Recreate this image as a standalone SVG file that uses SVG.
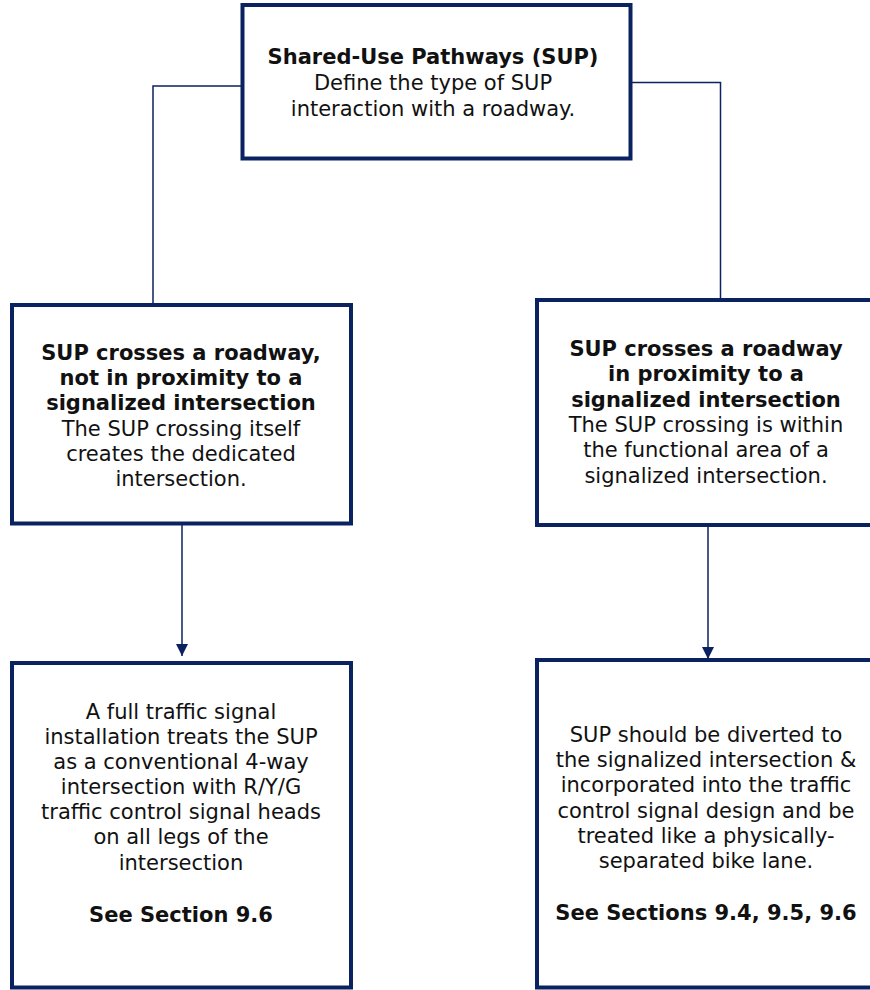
<svg xmlns="http://www.w3.org/2000/svg" width="870" height="990" viewBox="0 0 870 990">
  <defs>
    <marker id="arrow" viewBox="0 0 12 12" refX="12" refY="6" markerWidth="12" markerHeight="12" markerUnits="userSpaceOnUse" orient="auto">
      <path d="M0,0 L12,6 L0,12 Z" fill="#0b2260"/>
    </marker>
  </defs>
  <style>
    .box { fill: #ffffff; stroke: #0b2260; stroke-width: 4; }
    .link { fill: none; stroke: #0b2260; stroke-width: 1.5; }
    text { font-family: "DejaVu Sans", Verdana, sans-serif; font-size: 21px; fill: #111111; text-anchor: middle; }
    .b { font-weight: bold; }
  </style>
  <rect width="870" height="990" fill="#ffffff"/>

  <g id="connectors">
    <polyline class="link" points="242.5,86 153,86 153,305"/>
    <polyline class="link" points="630.5,82.5 720.5,82.5 720.5,300"/>
    <line class="link" x1="182" y1="524" x2="182" y2="656" marker-end="url(#arrow)"/>
    <line class="link" x1="708" y1="526" x2="708" y2="659" marker-end="url(#arrow)"/>
  </g>

  <g id="sup-root">
    <rect class="box" x="242.5" y="5" width="388" height="153.5"/>
    <text x="433" y="64" class="b">Shared-Use Pathways (SUP)</text>
    <text x="433" y="90">Define the type of SUP</text>
    <text x="433" y="116">interaction with a roadway.</text>
  </g>

  <g id="not-near-signal">
    <rect class="box" x="12" y="305" width="339" height="218.5"/>
    <text x="181" y="360" class="b">SUP crosses a roadway,</text>
    <text x="181" y="385" class="b">not in proximity to a</text>
    <text x="181" y="410" class="b">signalized intersection</text>
    <text x="181" y="436">The SUP crossing itself</text>
    <text x="181" y="461">creates the dedicated</text>
    <text x="181" y="486">intersection.</text>
  </g>

  <g id="near-signal">
    <rect class="box" x="537" y="300" width="345" height="225"/>
    <text x="706" y="356" class="b">SUP crosses a roadway</text>
    <text x="706" y="381" class="b">in proximity to a</text>
    <text x="706" y="407" class="b">signalized intersection</text>
    <text x="706" y="432">The SUP crossing is within</text>
    <text x="706" y="457">the functional area of a</text>
    <text x="706" y="483">signalized intersection.</text>
  </g>

  <g id="full-signal">
    <rect class="box" x="12" y="663" width="339" height="324.5"/>
    <text x="181" y="719">A full traffic signal</text>
    <text x="181" y="744">installation treats the SUP</text>
    <text x="181" y="769">as a conventional 4-way</text>
    <text x="181" y="794">intersection with R/Y/G</text>
    <text x="181" y="819">traffic control signal heads</text>
    <text x="181" y="844">on all legs of the</text>
    <text x="181" y="870">intersection</text>
    <text x="181" y="922" class="b">See Section 9.6</text>
  </g>

  <g id="divert-to-signal">
    <rect class="box" x="537" y="660" width="345" height="327.5"/>
    <text x="706" y="742">SUP should be diverted to</text>
    <text x="706" y="767">the signalized intersection &amp;</text>
    <text x="706" y="792">incorporated into the traffic</text>
    <text x="706" y="818">control signal design and be</text>
    <text x="706" y="843">treated like a physically-</text>
    <text x="706" y="868">separated bike lane.</text>
    <text x="706" y="920" class="b">See Sections 9.4, 9.5, 9.6</text>
  </g>
</svg>
